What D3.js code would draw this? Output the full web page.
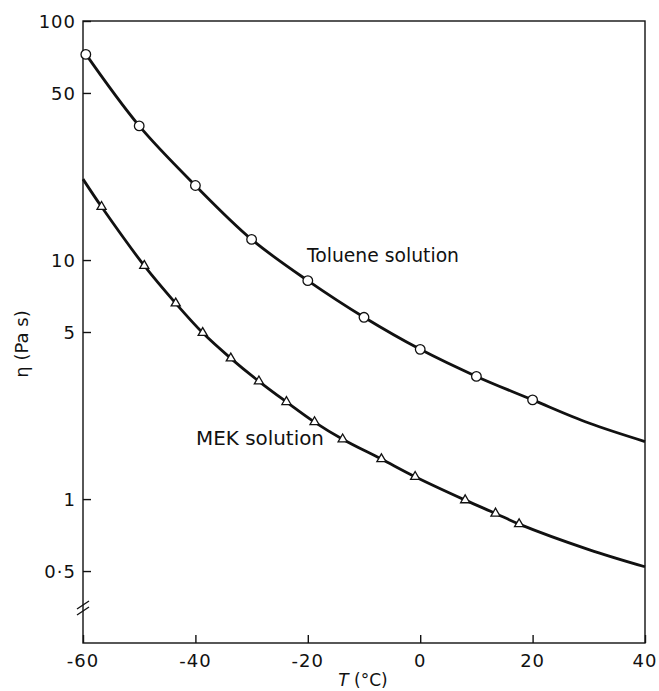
<!DOCTYPE html>
<html>
<head>
<meta charset="utf-8">
<script src="https://cdn.jsdelivr.net/npm/d3@7"></script>
<style>
	body { margin: 0; background: #ffffff; }
	svg { display: block; }
	text { font-family: "DejaVu Sans", sans-serif; fill: #111111; }
</style>
</head>
<body>
<div id="chart"></div>
<script>
// values
let xTicks = [-60, -40, -20, 0, 20, 40]
let yTicks = [100, 50, 10, 5, 1, 0.5]
let yTickLabels = ['100', '50', '10', '5', '1', '0·5']

// toluene solution, measured points (T, viscosity)
let tolueneT = [-59.5, -50, -40, -30, -20, -10, 0, 10, 20]
let tolueneEta = [72.5, 36.4, 20.5, 12.2, 8.2, 5.76, 4.23, 3.26, 2.6]
// toluene drawn curve, read at the frame edges and between points
let tolueneCurveT = [-60, -50, -40, -30, -20, -10, 0, 10, 20, 30, 40]
let tolueneCurveEta = [75.5, 36.4, 20.5, 12.2, 8.2, 5.76, 4.23, 3.26, 2.6, 2.08, 1.74]

// MEK solution, measured points
let mekT = [-56.7, -49.1, -43.5, -38.7, -33.7, -28.7, -23.8, -18.8, -13.8, -6.9, -0.9, 8, 13.4, 17.6]
let mekEta = [16.7, 9.47, 6.59, 4.96, 3.88, 3.11, 2.55, 2.1, 1.78, 1.47, 1.24, 0.99, 0.871, 0.786]
let mekCurveT = [-60, -56.7, -49.1, -43.5, -38.7, -33.7, -28.7, -23.8, -18.8, -13.8, -6.9, -0.9, 8, 13.4, 17.6, 30, 40]
let mekCurveEta = [21.8, 16.7, 9.47, 6.59, 4.96, 3.88, 3.11, 2.55, 2.1, 1.78, 1.47, 1.24, 0.99, 0.871, 0.786, 0.615, 0.521]

function zip(a, b){
	return a.map(function(v, i){ return {'x': v, 'y': b[i]} })
}

function drawChart(){
	let width = 659, height = 691
	let left = 83, right = 645, top = 21, bottom = 643

	let svg = d3.select('#chart')
		.append('svg')
		.attr('width', width)
		.attr('height', height)

	let x = d3.scaleLinear()
		.domain([-60, 40])
		.range([left, right])

	let y = d3.scaleLog()
		.domain([0.25, 100])
		.range([bottom, top])

	// frame
	svg.append('rect')
		.attr('x', left)
		.attr('y', top)
		.attr('width', right - left)
		.attr('height', bottom - top)
		.attr('fill', 'none')
		.attr('stroke', '#111111')
		.attr('stroke-width', 1.4)

	// x axis, ticks pointing inward
	let xAxis = svg.append('g')
		.attr('transform', 'translate(0,' + bottom + ')')
		.call(d3.axisTop(x).tickValues(xTicks).tickSize(8).tickFormat(''))
	xAxis.select('.domain').remove()
	xAxis.selectAll('line').attr('stroke', '#111111').attr('stroke-width', 1.4)

	svg.selectAll('.xlabel')
		.data(xTicks)
		.enter()
		.append('text')
		.attr('class', 'xlabel')
		.attr('x', function(d){ return x(d) })
		.attr('y', 667)
		.attr('text-anchor', 'middle')
		.attr('font-size', 18)
		.attr('letter-spacing', 1)
		.text(function(d){ return d < 0 ? '-' + Math.abs(d) : d })

	// y axis
	let yAxis = svg.append('g')
		.attr('transform', 'translate(' + left + ',0)')
		.call(d3.axisRight(y).tickValues(yTicks).tickSize(8).tickFormat(''))
	yAxis.select('.domain').remove()
	yAxis.selectAll('line').attr('stroke', '#111111').attr('stroke-width', 1.4)

	svg.selectAll('.ylabel')
		.data(yTicks)
		.enter()
		.append('text')
		.attr('class', 'ylabel')
		.attr('x', 76)
		.attr('y', function(d){ return y(d) + 7 })
		.attr('text-anchor', 'end')
		.attr('font-size', 18)
		.attr('letter-spacing', 1)
		.text(function(d, i){ return yTickLabels[i] })

	// axis break marks
	let breakY = 611
	;[0, 6].forEach(function(off){
		svg.append('line')
			.attr('x1', left - 6)
			.attr('y1', breakY + 4 - off)
			.attr('x2', left + 6)
			.attr('y2', breakY - 4 - off)
			.attr('stroke', '#111111')
			.attr('stroke-width', 1.4)
	});

	// axis titles
	svg.append('text')
		.attr('transform', 'translate(28,344) rotate(-90)')
		.attr('text-anchor', 'middle')
		.attr('font-size', 18)
		.text('\u03b7 (Pa s)')

	let xt = svg.append('text')
		.attr('x', 363)
		.attr('y', 686)
		.attr('text-anchor', 'middle')
		.attr('font-size', 17)
	xt.append('tspan').attr('font-style', 'italic').text('T')
	xt.append('tspan').text(' (\u00b0C)')

	let line = d3.line()
		.x(function(d){ return x(d.x) })
		.y(function(d){ return y(d.y) })
		.curve(d3.curveCatmullRom.alpha(0.5))

	svg.append('path')
		.datum(zip(tolueneCurveT, tolueneCurveEta))
		.attr('fill', 'none')
		.attr('stroke', '#111111')
		.attr('stroke-width', 2.8)
		.attr('d', line)

	svg.append('path')
		.datum(zip(mekCurveT, mekCurveEta))
		.attr('fill', 'none')
		.attr('stroke', '#111111')
		.attr('stroke-width', 2.8)
		.attr('d', line)

	svg.selectAll('.circ')
		.data(zip(tolueneT, tolueneEta))
		.enter()
		.append('circle')
		.attr('class', 'circ')
		.attr('cx', function(d){ return x(d.x) })
		.attr('cy', function(d){ return y(d.y) })
		.attr('r', 4.8)
		.attr('fill', '#ffffff')
		.attr('stroke', '#111111')
		.attr('stroke-width', 1.3)

	svg.selectAll('.tri')
		.data(zip(mekT, mekEta))
		.enter()
		.append('path')
		.attr('class', 'tri')
		.attr('transform', function(d){ return 'translate(' + x(d.x) + ',' + y(d.y) + ')' })
		.attr('d', d3.symbol(d3.symbolTriangle, 36))
		.attr('fill', '#ffffff')
		.attr('stroke', '#111111')
		.attr('stroke-width', 1.3)

	// series labels
	svg.append('text')
		.attr('x', 307)
		.attr('y', 262)
		.attr('font-size', 20)
		.attr('textLength', 152)
		.attr('lengthAdjust', 'spacingAndGlyphs')
		.text('Toluene solution')

	svg.append('text')
		.attr('x', 196)
		.attr('y', 445)
		.attr('font-size', 20)
		.attr('textLength', 128)
		.attr('lengthAdjust', 'spacingAndGlyphs')
		.text('MEK solution')
}

drawChart()
</script>
</body>
</html>
